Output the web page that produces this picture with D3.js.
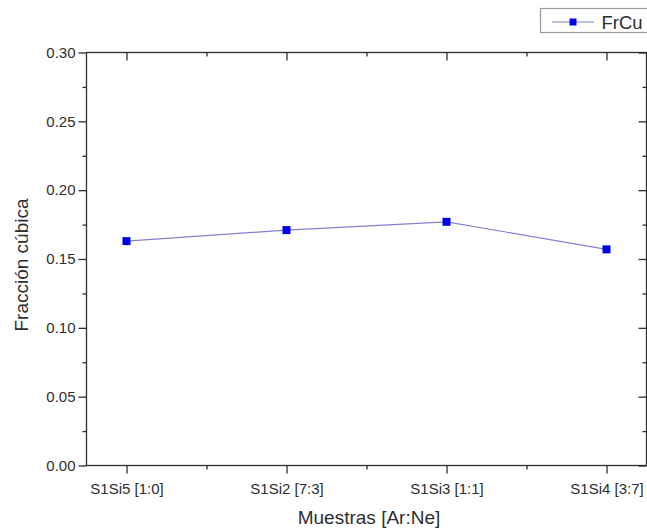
<!DOCTYPE html>
<html>
<head>
<meta charset="utf-8">
<script src="https://cdn.jsdelivr.net/npm/d3@7"></script>
<style>
  html, body { margin: 0; padding: 0; background: #fff; }
  svg { display: block; font-family: "Liberation Sans", Arial, sans-serif; }
</style>
</head>
<body>
<svg id="chart" width="647" height="531"></svg>
<script>
// Cubic fraction per sample (Ar:Ne gas ratio)
const categories = ["S1Si5 [1:0]", "S1Si2 [7:3]", "S1Si3 [1:1]", "S1Si4 [3:7]"];
const frCu = [0.163, 0.171, 0.177, 0.157];
const yTicks = [0.00, 0.05, 0.10, 0.15, 0.20, 0.25, 0.30];
const yMinorTicks = [0.025, 0.075, 0.125, 0.175, 0.225, 0.275];
const xMinorTicks = [1.5, 2.5, 3.5];
const seriesName = "FrCu";

const svg = d3.select("#chart");
const plotL = 86.5, plotR = 646.5, plotT = 52.5, plotB = 465.5;
const ink = "#2e2e2e";
const majorLen = 8, minorLen = 4;

const x = d3.scaleLinear().domain([0.75, categories.length + 0.25]).range([plotL, plotR]);
const y = d3.scaleLinear().domain([0, 0.30]).range([plotB, plotT]);

function styleTicks(g) {
  g.select(".domain").remove();
  g.selectAll("line").attr("stroke", ink).attr("stroke-width", 1.3);
  g.selectAll("text").attr("fill", ink).attr("font-size", 15);
}

// Frame
svg.append("rect")
  .attr("x", plotL).attr("y", plotT)
  .attr("width", plotR - plotL).attr("height", plotB - plotT)
  .attr("fill", "none").attr("stroke", ink).attr("stroke-width", 1.3);

// Left axis (outward ticks)
svg.append("g").attr("transform", `translate(${plotL},0)`)
  .call(d3.axisLeft(y).tickValues(yTicks).tickFormat(d3.format(".2f")).tickSize(majorLen).tickPadding(3))
  .call(styleTicks);
svg.append("g").attr("transform", `translate(${plotL},0)`)
  .call(d3.axisLeft(y).tickValues(yMinorTicks).tickSize(minorLen).tickFormat(""))
  .call(styleTicks);

// Right axis (inward ticks)
svg.append("g").attr("transform", `translate(${plotR},0)`)
  .call(d3.axisRight(y).tickValues(yTicks).tickSize(-majorLen).tickFormat(""))
  .call(styleTicks);
svg.append("g").attr("transform", `translate(${plotR},0)`)
  .call(d3.axisRight(y).tickValues(yMinorTicks).tickSize(-minorLen).tickFormat(""))
  .call(styleTicks);

// Bottom axis (outward ticks, category labels)
const catIdx = categories.map((_, i) => i + 1);
svg.append("g").attr("transform", `translate(0,${plotB})`)
  .call(d3.axisBottom(x).tickValues(catIdx).tickFormat(d => categories[d - 1]).tickSize(majorLen).tickPadding(10))
  .call(styleTicks);
svg.append("g").attr("transform", `translate(0,${plotB})`)
  .call(d3.axisBottom(x).tickValues(xMinorTicks).tickSize(minorLen).tickFormat(""))
  .call(styleTicks);

// Top axis (inward ticks)
svg.append("g").attr("transform", `translate(0,${plotT})`)
  .call(d3.axisTop(x).tickValues(catIdx).tickSize(-majorLen).tickFormat(""))
  .call(styleTicks);
svg.append("g").attr("transform", `translate(0,${plotT})`)
  .call(d3.axisTop(x).tickValues(xMinorTicks).tickSize(-minorLen).tickFormat(""))
  .call(styleTicks);

// Axis titles
svg.append("text")
  .attr("x", 369).attr("y", 524)
  .attr("text-anchor", "middle").attr("font-size", 19).attr("fill", ink)
  .text("Muestras [Ar:Ne]");
svg.append("text")
  .attr("transform", `translate(28,265) rotate(-90)`)
  .attr("text-anchor", "middle").attr("font-size", 19).attr("fill", ink)
  .text("Fracción cúbica");

// Series line and markers
const lineColor = "#8282cc";
const markColor = "#0000ee";
svg.append("path")
  .datum(frCu)
  .attr("fill", "none").attr("stroke", lineColor).attr("stroke-width", 1.2)
  .attr("d", d3.line().x((d, i) => x(i + 1)).y(d => y(d)));
const ms = 8;
svg.selectAll("rect.pt").data(frCu).join("rect")
  .attr("class", "pt")
  .attr("x", (d, i) => x(i + 1) - ms / 2).attr("y", d => y(d) - ms / 2)
  .attr("width", ms).attr("height", ms)
  .attr("fill", markColor);

// Legend
const lg = svg.append("g");
lg.append("rect").attr("x", 540.5).attr("y", 8.5).attr("width", 112).attr("height", 24)
  .attr("fill", "#fff").attr("stroke", "#9a9a9a").attr("stroke-width", 1.2);
lg.append("line").attr("x1", 552).attr("x2", 594).attr("y1", 22).attr("y2", 22)
  .attr("stroke", lineColor).attr("stroke-width", 1.2);
lg.append("rect").attr("x", 573 - 3.5).attr("y", 22 - 3.5).attr("width", 7).attr("height", 7)
  .attr("fill", markColor);
lg.append("text").attr("x", 601.5).attr("y", 28.5).attr("font-size", 18.5).attr("fill", ink).text(seriesName);
</script>
</body>
</html>
